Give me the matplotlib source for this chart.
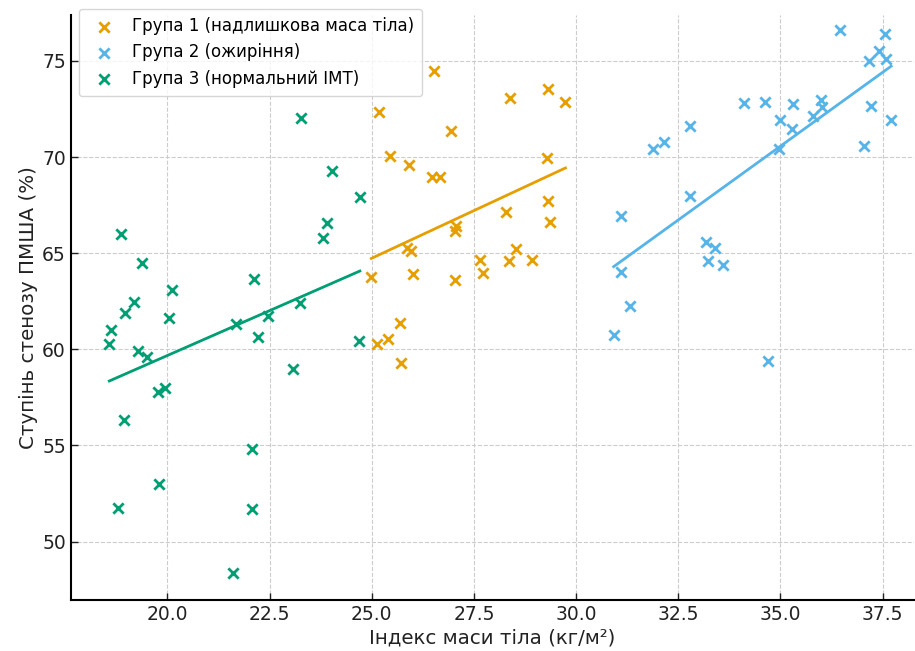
import matplotlib
matplotlib.use("Agg")
import matplotlib.pyplot as plt
import numpy as np

# Група 1 (надлишкова маса тіла)
bmi_g1 = [26.53, 25.19, 28.39, 29.31, 29.74, 26.94, 25.45, 25.91, 26.47, 26.67,
          29.29, 29.31, 28.28, 29.37, 27.06, 27.04, 25.86, 25.97, 28.52, 27.65,
          28.36, 28.92, 27.73, 26.00, 24.99, 27.04, 25.68, 25.41, 25.13, 25.71]
sten_g1 = [74.46, 72.33, 73.07, 73.56, 72.85, 71.37, 70.06, 69.60, 68.98, 68.96,
           69.94, 67.72, 67.16, 66.61, 66.43, 66.17, 65.25, 65.13, 65.20, 64.63,
           64.61, 64.66, 63.99, 63.90, 63.75, 63.61, 61.35, 60.52, 60.29, 59.27]

# Група 2 (ожиріння)
bmi_g2 = [36.46, 37.55, 37.41, 37.17, 37.59, 37.22, 37.71, 37.05, 36.00, 36.02,
          35.80, 35.31, 35.29, 34.99, 34.63, 34.11, 34.96, 32.79, 32.16, 31.89,
          32.78, 31.10, 33.17, 33.41, 33.24, 33.59, 31.10, 31.32, 30.92, 34.69]
sten_g2 = [76.60, 76.40, 75.54, 75.00, 75.09, 72.67, 71.95, 70.56, 72.97, 72.59,
           72.15, 72.76, 71.46, 71.93, 72.87, 72.80, 70.42, 71.60, 70.77, 70.42,
           67.99, 66.95, 65.58, 65.27, 64.61, 64.37, 64.01, 62.24, 60.74, 59.39]

# Група 3 (нормальний ІМТ)
bmi_g3 = [18.87, 19.37, 20.12, 19.19, 18.96, 18.62, 18.58, 20.04, 19.28, 19.51,
          19.76, 19.94, 22.13, 21.67, 22.22, 22.46, 23.25, 23.07, 24.03, 24.71,
          23.91, 23.81, 24.68, 23.27, 18.95, 22.07, 19.79, 18.79, 22.06, 21.61]
sten_g3 = [65.98, 64.47, 63.07, 62.45, 61.87, 60.99, 60.29, 61.64, 59.91, 59.62,
           57.76, 58.00, 63.67, 61.30, 60.62, 61.73, 62.39, 58.98, 69.29, 67.94,
           66.59, 65.78, 60.43, 72.03, 56.32, 54.83, 53.00, 51.73, 51.68, 48.36]

groups = [
    ("Група 1 (надлишкова маса тіла)", bmi_g1, sten_g1, "#E69F00"),
    ("Група 2 (ожиріння)", bmi_g2, sten_g2, "#56B4E9"),
    ("Група 3 (нормальний ІМТ)", bmi_g3, sten_g3, "#009E73"),
]

fig = plt.figure(figsize=(9.15, 6.51), dpi=100)
ax = fig.add_axes([0.0773, 0.0783, 0.9217, 0.8987])

for label, x, y, color in groups:
    x = np.array(x)
    y = np.array(y)
    ax.scatter(x, y, marker="x", s=55, linewidths=2, color=color, label=label)
    # linear trend for each group
    k, b = np.polyfit(x, y, 1)
    xs = np.linspace(x.min(), x.max(), 50)
    ax.plot(xs, k * xs + b, color=color, linewidth=2)

ax.set_xlim(17.636, 38.27)
ax.set_ylim(46.96, 77.39)
ax.set_xticks([20.0, 22.5, 25.0, 27.5, 30.0, 32.5, 35.0, 37.5])
ax.set_yticks([50, 55, 60, 65, 70, 75])
ax.xaxis.set_major_formatter(matplotlib.ticker.FormatStrFormatter("%.1f"))

ax.grid(True, linestyle="--", color="#cccccc", linewidth=0.8)
ax.set_axisbelow(True)
ax.spines["top"].set_visible(False)
ax.spines["right"].set_visible(False)
ax.spines["left"].set_linewidth(1.5)
ax.spines["bottom"].set_linewidth(1.5)
ax.tick_params(direction="in", labelsize=13.5, length=5, width=1, colors="#222222")

ax.set_xlabel("Індекс маси тіла (кг/м²)", fontsize=14.3, color="#222222", labelpad=3)
ax.set_ylabel("Ступінь стенозу ПМША (%)", fontsize=14.3, color="#222222", labelpad=3)

ax.legend(loc="upper left", fontsize=12, frameon=True, bbox_to_anchor=(0.0, 1.025),
          borderpad=0.5, handletextpad=0.65, labelspacing=0.5)

plt.savefig("out.png", dpi=100)
